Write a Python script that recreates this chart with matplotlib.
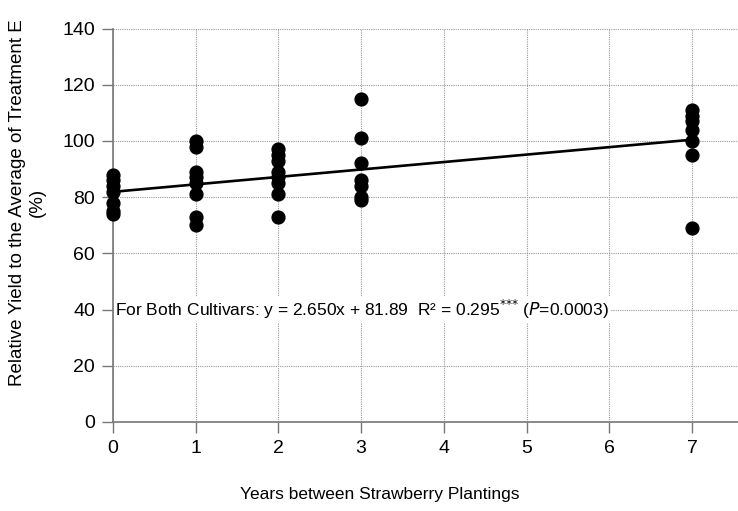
import matplotlib
matplotlib.use('Agg')
import matplotlib.pyplot as plt

# years between plantings and relative yields (%)
years = [0] * 7 + [1] * 8 + [2] * 8 + [3] * 7 + [7] * 7
yields = [88, 86, 84, 82, 78, 75, 74,
          100, 98, 89, 87, 85, 81, 73, 70,
          97, 95, 93, 89, 87, 85, 81, 73,
          115, 101, 92, 86, 84, 80, 79,
          111, 109, 107, 104, 100, 95, 69]

slope, intercept = 2.650, 81.89
fit_x = [0, 7]
fit_y = [slope * x + intercept for x in fit_x]

plt.rcParams['font.family'] = ['Liberation Sans', 'DejaVu Sans']

fig = plt.figure(figsize=(7.38, 5.11), dpi=100)
ax = fig.add_axes([0.1531, 0.1742, 1.0 - 0.1531, 0.9442 - 0.1742])

ax.scatter(years, yields, s=85, c='black', zorder=3, clip_on=False)
ax.plot(fit_x, fit_y, c='black', lw=1.9, zorder=3)

ax.set_xlim(0, 7.556)
ax.set_ylim(0, 140)
ax.set_xticks(range(0, 8))
ax.set_yticks(range(0, 141, 20))
ax.grid(True, color='#999999', lw=0.8, ls=(0, (1, 1)))
ax.set_axisbelow(True)

for side in ['top', 'right']:
    ax.spines[side].set_visible(False)
for side in ['left', 'bottom']:
    ax.spines[side].set_color('#777777')
    ax.spines[side].set_linewidth(1.2)
ax.tick_params(axis='both', labelsize=14, length=8, color='#777777', width=1.0)
ax.tick_params(axis='y', pad=5)
ax.tick_params(axis='x', pad=5)

ax.text(0.03, 40, 'For Both Cultivars: y = 2.650x + 81.89  R² = 0.295$^{{*}{*}{*}}$ ($P$=0.0003)',
        fontsize=12.5, va='center', ha='left', zorder=4,
        bbox=dict(facecolor='white', edgecolor='none', pad=1))

ax.set_ylabel('Relative Yield to the Average of Treatment E\n(%)', fontsize=13.5,
              linespacing=1.2)
ax.yaxis.set_label_coords(-0.108, 0.558)
ax.set_xlabel('Years between Strawberry Plantings', fontsize=12.5)
ax.xaxis.set_label_coords((380 - 113) / (738 - 113), -0.165)

fig.savefig('out.png', dpi=100)
